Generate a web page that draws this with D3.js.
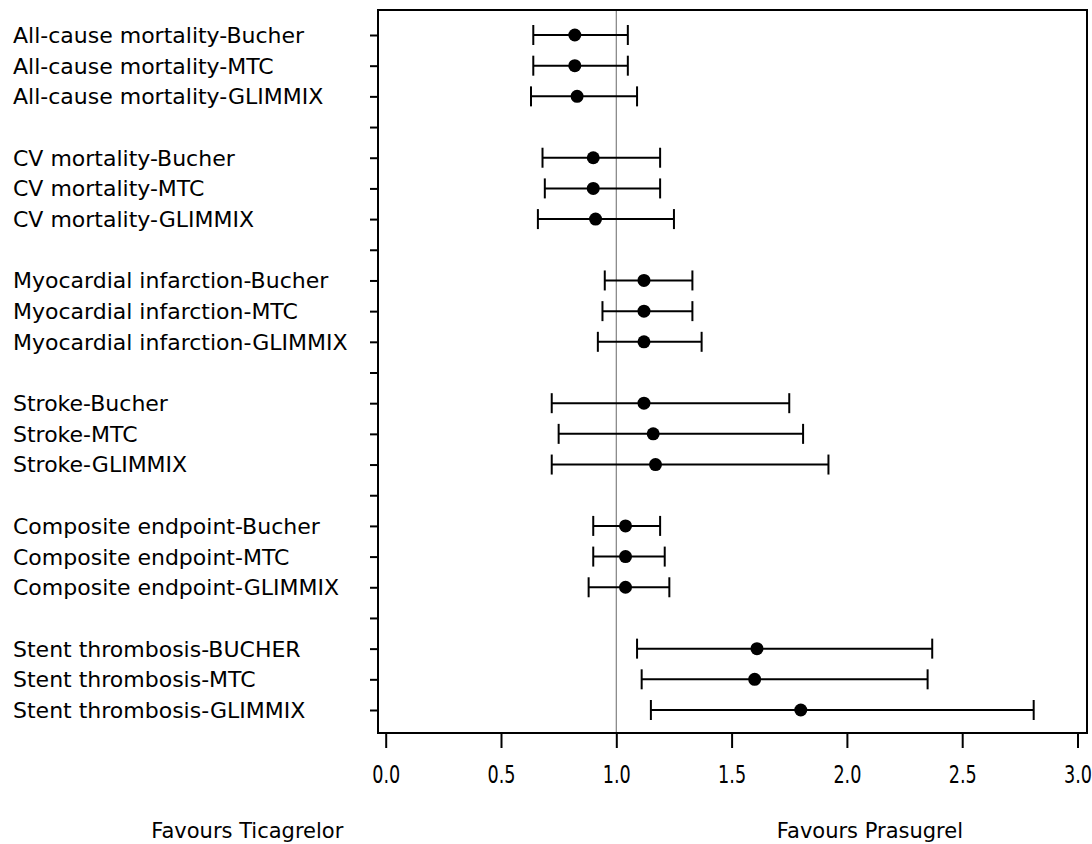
<!DOCTYPE html>
<html>
<head>
<meta charset="utf-8">
<script src="https://cdn.jsdelivr.net/npm/d3@7"></script>
<style>
  body { margin: 0; background: #fff; }
  text { font-family: "DejaVu Sans", sans-serif; fill: #000; }
</style>
</head>
<body>
<div id="forestContainer"></div>
<script>
// rows, top to bottom (a blank slot sits between each outcome group)
var rowLabels = [
  "All-cause mortality-Bucher", "All-cause mortality-MTC", "All-cause mortality-GLIMMIX",
  "CV mortality-Bucher", "CV mortality-MTC", "CV mortality-GLIMMIX",
  "Myocardial infarction-Bucher", "Myocardial infarction-MTC", "Myocardial infarction-GLIMMIX",
  "Stroke-Bucher", "Stroke-MTC", "Stroke-GLIMMIX",
  "Composite endpoint-Bucher", "Composite endpoint-MTC", "Composite endpoint-GLIMMIX",
  "Stent thrombosis-BUCHER", "Stent thrombosis-MTC", "Stent thrombosis-GLIMMIX"
];
var estimates = [0.82, 0.82, 0.83, 0.90, 0.90, 0.91, 1.12, 1.12, 1.12, 1.12, 1.16, 1.17, 1.04, 1.04, 1.04, 1.61, 1.60, 1.80];
var lowerCI   = [0.64, 0.64, 0.63, 0.68, 0.69, 0.66, 0.95, 0.94, 0.92, 0.72, 0.75, 0.72, 0.90, 0.90, 0.88, 1.09, 1.11, 1.15];
var upperCI   = [1.05, 1.05, 1.09, 1.19, 1.19, 1.25, 1.33, 1.33, 1.37, 1.75, 1.81, 1.92, 1.19, 1.21, 1.23, 2.37, 2.35, 2.81];
var xTicks = [0, 0.5, 1, 1.5, 2, 2.5, 3];
var sideLabels = ["Favours Ticagrelor", "Favours Prasugrel"];
var sideValues = [-0.6, 2.1];

var attrs = {
  width: 1092,
  height: 844,
  box: { left: 378, top: 10, right: 1087, bottom: 733 },
  rowSize: 3
};

var data = rowLabels.map(function (d, i) {
  return {
    label: d,
    est: estimates[i],
    lo: lowerCI[i],
    hi: upperCI[i],
    slot: i + Math.floor(i / attrs.rowSize)
  };
});
var slotCount = data[data.length - 1].slot + 1;

var x = d3.scaleLinear().domain([0, 3]).range([385.7, 1077.5]);
var y = d3.scaleLinear().domain([0, slotCount - 1]).range([35, 710]);

var svg = d3.select("#forestContainer")
  .append("svg")
  .attr("width", attrs.width)
  .attr("height", attrs.height);

// reference line at 1
svg.append("line")
  .attr("x1", x(1)).attr("x2", x(1))
  .attr("y1", attrs.box.top).attr("y2", attrs.box.bottom)
  .attr("stroke", "#808080")
  .attr("stroke-width", 1.2);

// frame
svg.append("rect")
  .attr("x", attrs.box.left)
  .attr("y", attrs.box.top)
  .attr("width", attrs.box.right - attrs.box.left)
  .attr("height", attrs.box.bottom - attrs.box.top)
  .attr("fill", "none")
  .attr("stroke", "#000")
  .attr("stroke-width", 2);

// x axis
var xAxis = d3.axisBottom(x)
  .tickValues(xTicks)
  .tickSize(15)
  .tickPadding(0)
  .tickFormat(d3.format(".1f"));

var xG = svg.append("g")
  .attr("transform", "translate(0," + attrs.box.bottom + ")")
  .call(xAxis);
xG.select(".domain").remove();
xG.selectAll(".tick line").attr("stroke", "#000").attr("stroke-width", 2);
// narrow, tall digits like the original
xG.selectAll(".tick text")
  .attr("y", 50)
  .attr("dy", 0)
  .attr("transform", "scale(0.72,1)")
  .style("font-family", "DejaVu Sans, sans-serif")
  .style("font-size", "24.5px")
  .attr("fill", "#000");

// y axis ticks, one per slot including the blanks
var yAxis = d3.axisLeft(y)
  .tickValues(d3.range(slotCount))
  .tickSize(8)
  .tickFormat("");

var yG = svg.append("g")
  .attr("transform", "translate(" + attrs.box.left + ",0)")
  .call(yAxis);
yG.select(".domain").remove();
yG.selectAll(".tick line").attr("stroke", "#000").attr("stroke-width", 2);

// row labels
svg.selectAll(".rowLabel")
  .data(data)
  .enter()
  .append("text")
  .classed("rowLabel", true)
  .attr("x", 13)
  .attr("y", function (d) { return y(d.slot); })
  .attr("dy", "0.36em")
  .style("font-size", "22px")
  .text(function (d) { return d.label; });

// confidence intervals
var rows = svg.selectAll(".ci")
  .data(data)
  .enter()
  .append("g")
  .classed("ci", true)
  .attr("transform", function (d) { return "translate(0," + y(d.slot) + ")"; });

rows.append("line")
  .attr("x1", function (d) { return x(d.lo); })
  .attr("x2", function (d) { return x(d.hi); })
  .attr("stroke", "#000")
  .attr("stroke-width", 2);

rows.selectAll(".cap")
  .data(function (d) { return [d.lo, d.hi]; })
  .enter()
  .append("line")
  .classed("cap", true)
  .attr("x1", function (v) { return x(v); })
  .attr("x2", function (v) { return x(v); })
  .attr("y1", -10)
  .attr("y2", 10)
  .attr("stroke", "#000")
  .attr("stroke-width", 2);

rows.append("circle")
  .attr("cx", function (d) { return x(d.est); })
  .attr("r", 6.5)
  .attr("fill", "#000");

// favours labels under the axis
svg.selectAll(".sideLabel")
  .data(sideLabels)
  .enter()
  .append("text")
  .classed("sideLabel", true)
  .attr("x", function (d, i) { return x(sideValues[i]); })
  .attr("y", 838)
  .attr("text-anchor", "middle")
  .style("font-size", "21px")
  .text(function (d) { return d; });
</script>
</body>
</html>
